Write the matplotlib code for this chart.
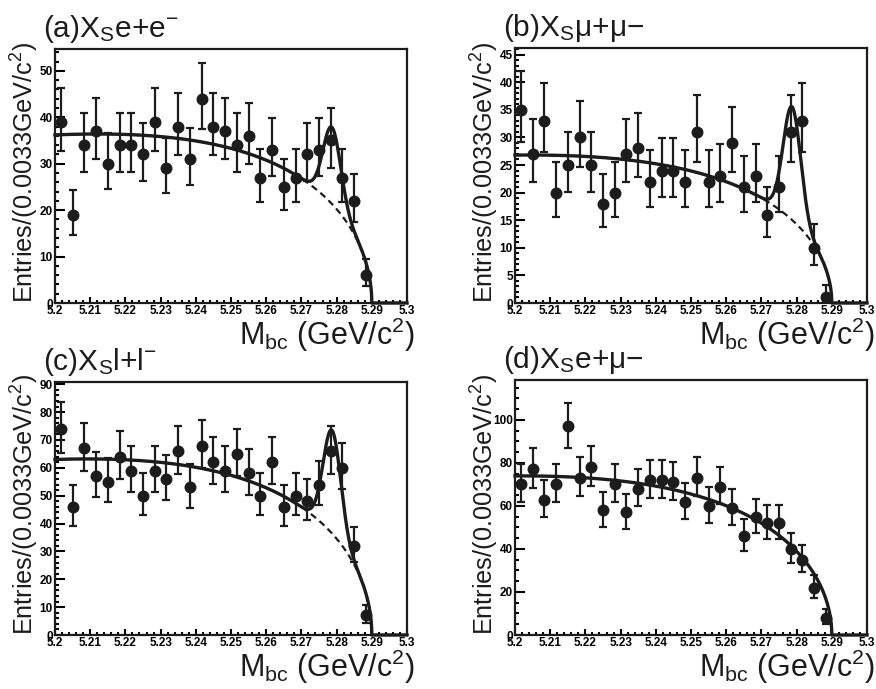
import numpy as np
import matplotlib
matplotlib.use('Agg')
import matplotlib.pyplot as plt
from matplotlib.ticker import MultipleLocator, FormatStrFormatter

plt.rcParams['font.family'] = ['Liberation Sans', 'DejaVu Sans']
plt.rcParams['mathtext.fontset'] = 'custom'
plt.rcParams['mathtext.rm'] = 'Liberation Sans'
plt.rcParams['mathtext.it'] = 'Liberation Sans:italic'
plt.rcParams['mathtext.bf'] = 'Liberation Sans:bold'

# histogram binning: 30 bins of 0.0033 GeV/c2 between 5.2 and 5.3
mbc_lo, mbc_hi, nbins = 5.2, 5.3, 30

# entries per bin (bins above 5.29 are empty and not drawn)
counts_ee = [39, 19, 34, 37, 30, 34, 34, 32, 39, 29, 38, 31, 44, 38, 37,
             34, 36, 27, 33, 25, 27, 32, 33, 35, 27, 22, 6]
counts_mumu = [35, 27, 33, 20, 25, 30, 25, 18, 20, 27, 28, 22, 24, 24, 22,
               31, 22, 23, 29, 21, 23, 16, 21, 31, 33, 10, 1]
counts_ll = [74, 46, 67, 57, 55, 64, 59, 50, 59, 56, 66, 53, 68, 62, 59,
             65, 58, 50, 62, 46, 50, 48, 54, 66, 60, 32, 7]
counts_emu = [70, 77, 63, 70, 97, 73, 78, 58, 70, 57, 68, 72, 72, 71, 62,
              73, 60, 69, 59, 46, 55, 52, 52, 40, 35, 22, 8]

# fit parameters: ARGUS level at 5.2, ARGUS shape, gaussian height (0 = no signal)
argus_level = [36.2, 26.8, 63.0, 74.0]
argus_chi = [16.6, 15.0, 16.0, 14.6]
signal_amp = [16.5, 20.5, 37.0, 0.0]
signal_mean = 5.2787
signal_sigma = 0.0025
endpoint = 5.29

titles = [r'(a)X$_\mathrm{S}$e+e$^\mathrm{-}$',
          r'(b)X$_\mathrm{S}$μ+μ−',
          r'(c)X$_\mathrm{S}$l+l$^\mathrm{-}$',
          r'(d)X$_\mathrm{S}$e+μ−']
ymax = [54.7, 46.2, 90.8, 118.6]
ymajor = [10, 5, 10, 20]
yminor = [2, 1, 2, 5]

# axes boxes in pixels: left, top, right, bottom
boxes = [(55, 49, 407, 303), (515, 48, 867, 303),
         (55, 382, 407, 635), (515, 380, 867, 635)]

W, H = 876, 689
ink = '#1c1c1c'


def argus(m, level, chi):
    u = np.clip(1 - (m / endpoint) ** 2, 0, None)
    u0 = 1 - (mbc_lo / endpoint) ** 2
    f = m * np.sqrt(u) * np.exp(-chi * u)
    f0 = mbc_lo * np.sqrt(u0) * np.exp(-chi * u0)
    return level * f / f0


def poisson_err(n):
    n = np.asarray(n, dtype=float)
    lo = n - n * (1 - 1 / (9 * n) - 1 / (3 * np.sqrt(n))) ** 3
    up = (n + 1) * (1 - 1 / (9 * (n + 1)) + 1 / (3 * np.sqrt(n + 1))) ** 3 - n
    return lo, up


fig = plt.figure(figsize=(W / 100.0, H / 100.0), dpi=100)

all_counts = [counts_ee, counts_mumu, counts_ll, counts_emu]
width = (mbc_hi - mbc_lo) / nbins
m = np.linspace(mbc_lo, mbc_hi, 2001)

for k in range(4):
    l, t, r, b = boxes[k]
    ax = fig.add_axes([l / W, 1 - b / H, (r - l) / W, (b - t) / H])

    n = np.array(all_counts[k])
    x = mbc_lo + (np.arange(len(n)) + 0.5) * width
    lo, up = poisson_err(n)
    ax.errorbar(x, n, yerr=[lo, up], fmt='o', color=ink, ms=7.6,
                elinewidth=1.6, capsize=3.2, capthick=1.6, zorder=3)

    bkg = argus(m, argus_level[k], argus_chi[k])
    total = bkg + signal_amp[k] * np.exp(-0.5 * ((m - signal_mean) / signal_sigma) ** 2)
    total[m >= endpoint] = 0
    if signal_amp[k] > 0:
        ax.plot(m, bkg, '--', color=ink, lw=1.6, dashes=(3, 2), zorder=2)
    ax.plot(m, total, '-', color=ink, lw=2.4, zorder=4, clip_on=False)

    ax.set_xlim(mbc_lo, mbc_hi)
    ax.set_ylim(0, ymax[k])
    ax.xaxis.set_major_locator(MultipleLocator(0.01))
    ax.xaxis.set_minor_locator(MultipleLocator(0.002))
    ax.xaxis.set_major_formatter(FormatStrFormatter('%g'))
    ax.yaxis.set_major_locator(MultipleLocator(ymajor[k]))
    ax.yaxis.set_minor_locator(MultipleLocator(yminor[k]))
    ax.yaxis.set_major_formatter(FormatStrFormatter('%g'))

    ax.tick_params(axis='both', which='both', direction='in', width=1.5,
                   top=False, right=False, labelsize=8.5, pad=1.5)
    ax.tick_params(axis='x', which='major', length=4.5)
    ax.tick_params(axis='x', which='minor', length=2.4)
    ax.tick_params(axis='y', which='major', length=7.2)
    ax.tick_params(axis='y', which='minor', length=3)
    for lab in ax.get_xticklabels() + ax.get_yticklabels():
        lab.set_fontweight('bold')
    for s in ax.spines.values():
        s.set_linewidth(1.6)
        s.set_color(ink)

    # panel title, axis titles
    fig.text((l - 12) / W, 1 - (t - 12) / H, titles[k], fontsize=21.5,
             ha='left', va='baseline', color=ink)
    fig.text((r + 8) / W, 1 - (b + 42) / H, r'M$_\mathrm{bc}$ (GeV/c$^\mathrm{2}$)',
             fontsize=22, ha='right', va='baseline', color=ink)
    fig.text((l - 30) / W, 1 - b / H, r'Entries/(0.0033GeV/c$^\mathrm{2}$)',
             fontsize=18.2, rotation=90, ha='center', va='bottom', color=ink)

fig.savefig('out.png', dpi=100)
